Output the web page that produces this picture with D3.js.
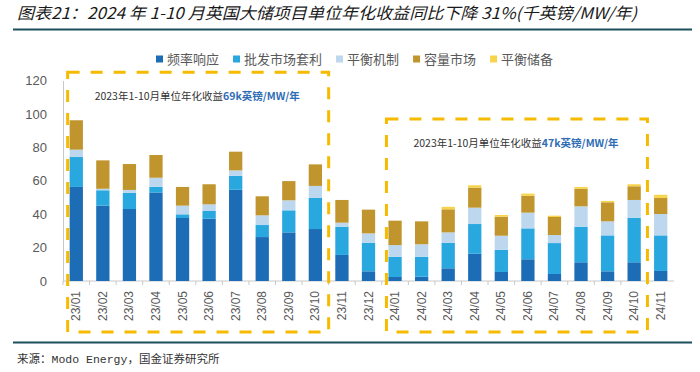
<!DOCTYPE html>
<html>
<head>
<meta charset="utf-8">
<script src="https://cdn.jsdelivr.net/npm/d3@7"></script>
<style>
  body { margin: 0; background: #fff; }
  svg { display: block; font-family: "Liberation Sans", "Noto Sans CJK SC", sans-serif; }
</style>
</head>
<body>
<svg id="chart"></svg>
<script>
const width = 700;
const height = 372;

// data (千英镑/MW/年)
const months = ["23/01", "23/02", "23/03", "23/04", "23/05", "23/06", "23/07", "23/08", "23/09", "23/10", "23/11", "23/12",
    "24/01", "24/02", "24/03", "24/04", "24/05", "24/06", "24/07", "24/08", "24/09", "24/10", "24/11"];
const freqResponse = [56.3, 45.1, 43.1, 53.0, 37.7, 37.3, 54.6, 26.3, 29.1, 31.1, 15.6, 5.8, 2.4, 2.6, 7.6, 16.3, 5.4, 13.0, 4.2, 11.2, 5.8, 11.2, 6.0];
const wholesale = [17.9, 9.2, 9.6, 3.4, 2.2, 4.6, 8.4, 7.2, 13.2, 18.6, 16.9, 17.1, 12.1, 11.9, 15.3, 17.8, 13.3, 18.5, 18.5, 21.3, 21.5, 26.7, 21.3];
const balancing = [4.4, 0.9, 1.8, 5.4, 5.2, 4.0, 3.2, 5.8, 6.0, 7.2, 2.4, 5.6, 7.0, 7.5, 6.2, 9.8, 8.4, 9.4, 4.8, 12.2, 8.4, 10.6, 12.8];
const capacity = [17.6, 17.0, 15.5, 13.6, 11.2, 12.0, 11.2, 11.4, 11.5, 12.9, 13.6, 14.2, 14.6, 13.7, 13.8, 12.0, 11.4, 10.1, 10.8, 10.5, 11.4, 8.2, 9.6];
const reserve = [0, 0, 0, 0, 0, 0, 0, 0, 0, 0, 0, 0, 0, 0, 1.5, 1.4, 1.0, 1.3, 0.8, 1.1, 0.8, 1.2, 1.9];
const seriesNames = ["频率响应", "批发市场套利", "平衡机制", "容量市场", "平衡储备"];
const yTicks = [0, 20, 40, 60, 80, 100, 120];

const colors = ["#1c6cb6", "#29a8e0", "#bdd7ee", "#c0952e", "#f8d44c"];
const seriesValues = [freqResponse, wholesale, balancing, capacity, reserve];

const table = months.map((m, i) => {
    const row = { month: m };
    seriesNames.forEach((s, k) => row[s] = seriesValues[k][i]);
    return row;
});

const svg = d3.select("#chart")
    .attr("width", width)
    .attr("height", height);

// title + rules
svg.append("text")
    .attr("x", 17)
    .attr("y", 19)
    .attr("font-size", 16)
    .attr("font-style", "italic")
    .attr("font-weight", 400)
    .attr("fill", "#1a1a1a")
    .attr("font-family", "'Noto Sans CJK SC', sans-serif")
    .attr("textLength", 620)
    .attr("lengthAdjust", "spacingAndGlyphs")
    .text("图表21：2024 年 1-10 月英国大储项目单位年化收益同比下降 31%(千英镑/MW/年)");

svg.append("line")
    .attr("x1", 13).attr("x2", 692)
    .attr("y1", 29.5).attr("y2", 29.5)
    .attr("stroke", "#1d4f5c")
    .attr("stroke-width", 2);

svg.append("line")
    .attr("x1", 13).attr("x2", 692)
    .attr("y1", 342.5).attr("y2", 342.5)
    .attr("stroke", "#1d4f5c")
    .attr("stroke-width", 2);

svg.append("text")
    .attr("x", 17)
    .attr("y", 363)
    .attr("font-size", 11.5)
    .attr("fill", "#333")
    .attr("font-family", "'Liberation Mono', 'Noto Sans CJK SC', monospace")
    .text("来源：Modo Energy，国金证券研究所");

// scales
const x = d3.scaleBand()
    .domain(months)
    .range([63, 674])
    .paddingInner(0.5)
    .paddingOuter(0.25);

const y = d3.scaleLinear()
    .domain([0, 120])
    .range([281, 80.5]);

const stacked = d3.stack().keys(seriesNames)(table);

// axes
svg.append("g")
    .attr("transform", "translate(63,0)")
    .call(d3.axisLeft(y).tickValues(yTicks).tickSize(0).tickPadding(16))
    .call(g => g.select(".domain").attr("stroke", "#c8c8c8"))
    .call(g => g.selectAll("text")
        .attr("font-size", 13)
        .attr("fill", "#595959"));

const xAxis = svg.append("g")
    .attr("transform", "translate(0,281)");

xAxis.append("line")
    .attr("x1", 63).attr("x2", 674)
    .attr("stroke", "#c8c8c8");

xAxis.selectAll("line.tick")
    .data(months)
    .enter()
    .append("line")
    .attr("class", "tick")
    .attr("x1", d => x(d) - x.step() * 0.25)
    .attr("x2", d => x(d) - x.step() * 0.25)
    .attr("y2", 4)
    .attr("stroke", "#c8c8c8");

xAxis.selectAll("text")
    .data(months)
    .enter()
    .append("text")
    .attr("transform", d => "translate(" + (x(d) + x.bandwidth() / 2 + 4) + ",10) rotate(-90)")
    .attr("text-anchor", "end")
    .attr("font-size", 12)
    .attr("fill", "#595959")
    .text(d => d);

// bars
svg.append("g")
    .selectAll("g")
    .data(stacked)
    .enter()
    .append("g")
    .attr("fill", (d, i) => colors[i])
    .selectAll("rect")
    .data(d => d)
    .enter()
    .append("rect")
    .attr("x", d => x(d.data.month))
    .attr("width", x.bandwidth())
    .attr("y", d => y(d[1]))
    .attr("height", d => y(d[0]) - y(d[1]));

// dashed highlight boxes
const boxes = [
    { from: "23/01", to: "23/10", top: 125, pre: "2023年1-10月单位年化收益", hi: "69k英镑/MW/年" },
    { from: "24/01", to: "24/10", top: 97, pre: "2023年1-10月单位年化收益", hi: "47k英镑/MW/年" }
];

boxes.forEach(b => {
    const x0 = x(b.from) - 2;
    const x1 = x(b.to) + x.bandwidth() + x.step() * 0.25;
    const y0 = y(b.top);
    svg.append("rect")
        .attr("x", x0)
        .attr("y", y0)
        .attr("width", x1 - x0)
        .attr("height", 332 - y0)
        .attr("fill", "none")
        .attr("stroke", "#f6bb00")
        .attr("stroke-width", 3)
        .attr("stroke-dasharray", "12,11");

    const t = svg.append("text")
        .attr("x", x0 + 27)
        .attr("y", y0 + 28)
        .attr("font-size", 10.5)
        .attr("font-family", "'Noto Sans CJK SC', sans-serif");
    t.append("tspan").attr("fill", "#333").text(b.pre);
    t.append("tspan").attr("fill", "#2f6db5").attr("font-weight", "bold").text(b.hi);
});

// legend
const legend = svg.append("g")
    .attr("transform", "translate(156,59)");

let lx = 0;
seriesNames.forEach((s, i) => {
    const item = legend.append("g").attr("transform", "translate(" + lx + ",0)");
    item.append("rect")
        .attr("y", -3.5)
        .attr("width", 7)
        .attr("height", 7)
        .attr("fill", colors[i]);
    const label = item.append("text")
        .attr("x", 11)
        .attr("dy", "0.35em")
        .attr("font-size", 13)
        .attr("fill", "#595959")
        .attr("font-family", "'Noto Sans CJK SC', sans-serif")
        .text(s);
    lx += 11 + label.node().getComputedTextLength() + 14;
});
</script>
</body>
</html>
